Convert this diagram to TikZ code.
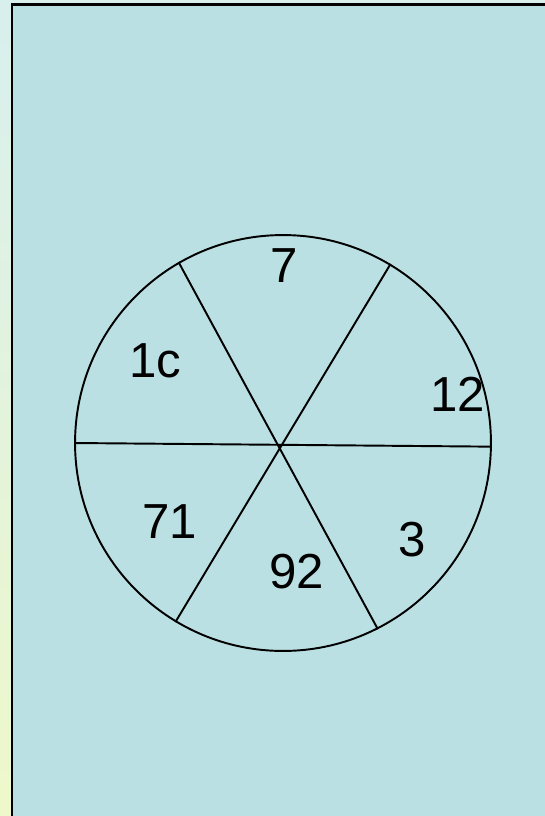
\documentclass[tikz,border=0pt]{standalone}
\usepackage{fontspec}
\setmainfont{Liberation Sans}
\usepackage{xcolor}
\usetikzlibrary{positioning, calc}

\definecolor{paneblue}{HTML}{BBE0E3}
\definecolor{edgetop}{HTML}{D8EFEE}
\definecolor{edgebot}{HTML}{EEF8CA}

\begin{document}
\begin{tikzpicture}[
    x=0.02cm, y=-0.02cm,
    % ---- slide pane ----
    pane/.style={fill=paneblue, draw=black, line width=1.7pt},
    % ---- circle ----
    wheel/.style={
        circle,
        draw=black,
        line width=1.1pt,
        minimum size=8.32cm,
        inner sep=0pt
    },
    % ---- spokes ----
    spoke/.style={line width=1.1pt, black},
    % ---- sector number ----
    num/.style={
        font=\fontsize{28}{33}\selectfont,
        inner sep=0pt
    }
]
\useasboundingbox (0,0) rectangle (545,816);

% ---- background ----
\begin{scope}
    \clip (0,0) rectangle (545,816);
    \shade[top color=edgetop, bottom color=edgebot] (0,0) rectangle (545,816);
    \draw[pane] (12,4) rectangle (600,900);
\end{scope}

% ---- wheel ----
\node[wheel] (Wheel) at (283,443) {};

% ---- spokes ----
\draw[spoke] (Wheel.120.3) -- (Wheel.-63.4);
\draw[spoke] (Wheel.59.7) -- (Wheel.239.7);
\draw[spoke] (Wheel.180.3) -- (Wheel.-1.1);

% ---- sector numbers ----
\node[num] (N7)  at (284,266) {7};
\node[num] (N1c) at (155,361) {1c};
\node[num] (N12) at (458,394) {12};
\node[num] (N71) at (170,522) {71};
\node[num] (N3)  at (412,540) {3};
\node[num] (N92) at (297,572) {92};

\end{tikzpicture}
\end{document}
